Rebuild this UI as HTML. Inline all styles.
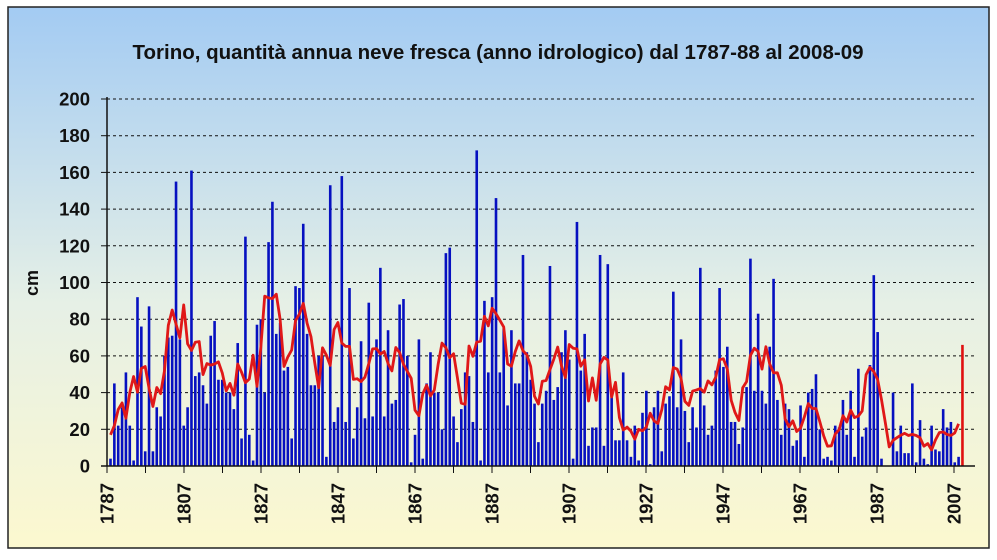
<!DOCTYPE html>
<html><head><meta charset="utf-8"><style>
html,body{margin:0;padding:0;}
body{width:997px;height:555px;overflow:hidden;background:#fff;}
</style></head><body>
<svg id="s" width="997" height="555" xmlns="http://www.w3.org/2000/svg" font-family="Liberation Sans, Arial, sans-serif">
<defs><linearGradient id="g" x1="0" y1="0" x2="0" y2="1">
<stop offset="0" stop-color="#a3cbf3"/><stop offset="0.55" stop-color="#e6f0e6"/><stop offset="1" stop-color="#fcf8cf"/></linearGradient></defs>
<rect x="0" y="0" width="997" height="555" fill="#fff"/>
<rect x="8" y="7" width="981" height="541" fill="url(#g)" stroke="#222" stroke-width="1.5"/>
<text x="498" y="59" text-anchor="middle" font-size="20.5" font-weight="bold" fill="#111">Torino, quantità annua neve fresca (anno idrologico) dal 1787-88 al 2008-09</text>
<text transform="translate(38,283) rotate(-90)" text-anchor="middle" font-size="18" font-weight="bold" fill="#111">cm</text>
<g id="grid"></g><g id="bars"></g><g id="line"></g><g id="ax"></g>
</svg>
<script>
var d=[4,45,22,32,51,22,3,92,76,8,87,8,32,27,60,70,71,155,69,22,32,161,49,51,44,34,71,79,47,47,40,40,31,67,15,125,17,3,77,80,40,122,144,72,78,52,54,15,98,97,132,72,44,44,60,60,5,
153,24,32,158,24,97,15,32,68,26,89,27,69,108,27,74,34,36,88,91,60,2,17,69,4,45,62,40,40,20,116,119,27,13,31,51,49,24,172,3,90,51,92,146,51,75,33,74,45,45,115,62,47,34,13,34,41,
109,36,43,62,74,58,4,133,52,72,11,21,21,115,11,110,39,14,14,51,14,5,22,3,29,41,1,32,41,8,34,38,95,32,69,30,13,32,21,108,33,17,22,52,97,54,65,24,24,12,21,43,113,41,83,41,34,
65,102,36,17,34,31,11,14,33,5,40,42,50,20,4,5,3,22,21,36,17,41,5,53,16,21,55,104,73,4,0,0,40,8,22,7,7,45,2,25,4,1,22,9,8,31,21,24,2,5];
var NS="http://www.w3.org/2000/svg";
function el(t,a,p,txt){var e=document.createElementNS(NS,t);for(var k in a)e.setAttribute(k,a[k]);if(txt!=null)e.textContent=txt;document.getElementById(p).appendChild(e);return e;}
var y0=466,k=1.835;function Y(v){return y0-v*k;}
function X(i){return 110.5+3.855*i;}
for(var v=0;v<=200;v+=20){var y=Y(v);
 if(v>0)el('line',{x1:107,x2:975,y1:y,y2:y,stroke:'#111','stroke-width':1,'stroke-dasharray':'3,3'},'grid');
 el('line',{x1:101,x2:107,y1:y,y2:y,stroke:'#111','stroke-width':1},'ax');
 el('text',{x:90,y:y+6.5,'text-anchor':'end','font-size':18.5,'font-weight':'bold',fill:'#111'},'ax',''+v);}
for(var i=0;i<d.length;i++){if(d[i]>0)el('rect',{x:X(i)-1.3,y:Y(d[i]),width:2.6,height:d[i]*k,fill:'#0610c0'},'bars');}
el('rect',{x:X(221)-1.3,y:Y(66),width:2.6,height:66*k,fill:'#e01010'},'bars');
var pts=[];for(var i=0;i<d.length;i++){var s=0,n=0;for(var j=i-2;j<=i+2;j++){if(j>=0&&j<d.length){s+=d[j];n++;}}var m=s/n;if(i<2)m=17+i*5;if(i>=d.length-2)m=18+(i-d.length+2)*5;pts.push(X(i).toFixed(1)+','+Y(m).toFixed(1));}
el('polyline',{points:pts.join(' '),fill:'none',stroke:'#e01818','stroke-width':2.8,'stroke-linejoin':'round'},'line');
el('line',{x1:107,x2:107,y1:97,y2:466,stroke:'#111','stroke-width':1.5},'ax');
el('line',{x1:101,x2:975,y1:466,y2:466,stroke:'#111','stroke-width':1.5},'ax');
for(var t=0;t<=22;t++){var x=107+38.5*t;if(x>975)break;el('line',{x1:x,x2:x,y1:466,y2:473,stroke:'#111','stroke-width':1},'ax');
 if(t%2==0){el('text',{transform:'translate('+(x+6.5)+',483) rotate(-90)','text-anchor':'end','font-size':18.5,'font-weight':'bold',fill:'#111'},'ax',''+(1787+t*10));}}
</script>
</body></html>
